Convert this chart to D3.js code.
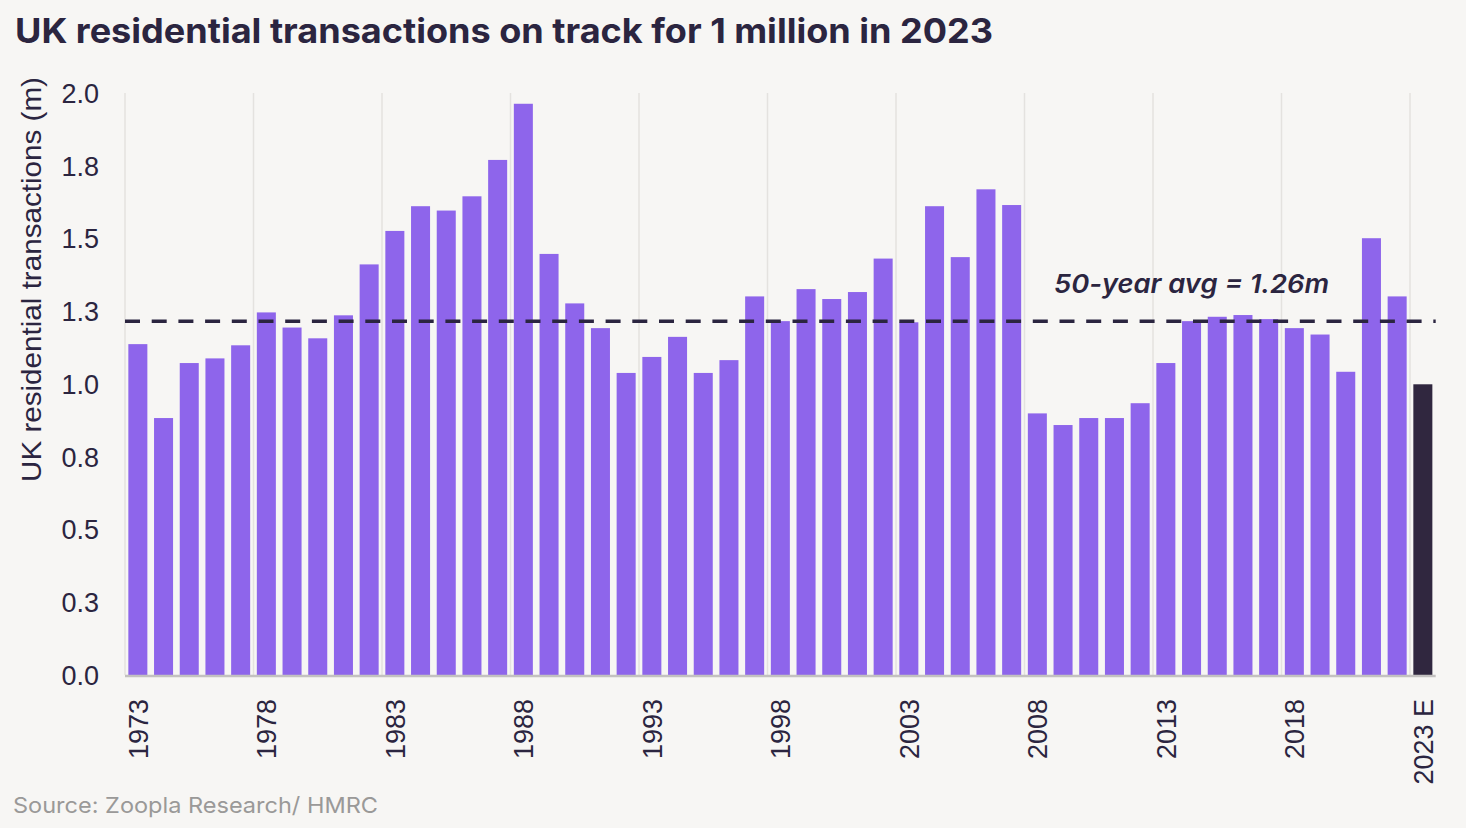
<!DOCTYPE html>
<html>
<head>
<meta charset="utf-8">
<script src="https://cdn.jsdelivr.net/npm/d3@7"></script>
<style>
  html, body { margin: 0; padding: 0; background: #f7f6f4; }
  svg { display: block; }
</style>
</head>
<body>
<svg id="chart" width="1466" height="828"></svg>
<script>
// categories (last one is the estimate)
const years = ['1973', '1974', '1975', '1976', '1977', '1978', '1979', '1980', '1981', '1982',
  '1983', '1984', '1985', '1986', '1987', '1988', '1989', '1990', '1991', '1992',
  '1993', '1994', '1995', '1996', '1997', '1998', '1999', '2000', '2001', '2002',
  '2003', '2004', '2005', '2006', '2007', '2008', '2009', '2010', '2011', '2012',
  '2013', '2014', '2015', '2016', '2017', '2018', '2019', '2020', '2021', '2022',
  '2023 E'];

// transactions, millions
const transactions = [1.137, 0.883, 1.072, 1.088, 1.133, 1.246, 1.194, 1.157, 1.236, 1.411,
  1.526, 1.611, 1.596, 1.645, 1.770, 1.963, 1.447, 1.277, 1.192, 1.038,
  1.093, 1.162, 1.038, 1.082, 1.301, 1.216, 1.326, 1.292, 1.316, 1.431,
  1.212, 1.611, 1.436, 1.669, 1.615, 0.899, 0.859, 0.883, 0.883, 0.934,
  1.072, 1.216, 1.231, 1.237, 1.223, 1.192, 1.170, 1.042, 1.501, 1.301,
  0.999];

const yTicks = [0, 0.25, 0.5, 0.75, 1, 1.25, 1.5, 1.75, 2];
const yTickLabels = ['0.0', '0.3', '0.5', '0.8', '1.0', '1.3', '1.5', '1.8', '2.0'];

const avgLine = 1.216; // where the dashed line sits in the picture
const avgLabel = '50-year avg = 1.26m';

const titleText = 'UK residential transactions on track for 1 million in 2023';
const yAxisTitle = 'UK residential transactions (m)';
const sourceText = 'Source: Zoopla Research/ HMRC';

const ink = '#2b2540';
const plot = { left: 125, right: 1435.7, top: 93, bottom: 675 };

const svg = d3.select('#chart');
const data = years.map((y, i) => ({ year: y, value: transactions[i] }));

const xScale = d3.scaleBand().domain(years).range([plot.left, plot.right]).paddingInner(0.26).paddingOuter(0.13);
const yScale = d3.scaleLinear().domain([0, 2]).range([plot.bottom, plot.top]);

// vertical grid every 5 years, at band edges
const gridYears = years.filter((d, i) => i % 5 === 0);
svg.append('g').selectAll('line').data(gridYears).join('line')
  .attr('x1', d => xScale(d) - xScale.step() * 0.13)
  .attr('x2', d => xScale(d) - xScale.step() * 0.13)
  .attr('y1', plot.top).attr('y2', plot.bottom)
  .attr('stroke', '#e4e2df').attr('stroke-width', 1.5);

// bars
svg.append('g').selectAll('rect').data(data).join('rect')
  .attr('x', d => xScale(d.year))
  .attr('width', xScale.bandwidth())
  .attr('y', d => yScale(d.value))
  .attr('height', d => yScale(0) - yScale(d.value))
  .attr('fill', d => d.year === '2023 E' ? '#30273f' : '#8e65eb');

// x axis
const xAxis = svg.append('g').attr('transform', `translate(0,${plot.bottom})`)
  .call(d3.axisBottom(xScale).tickValues(gridYears).tickSize(0).tickSizeOuter(0));
xAxis.select('.domain').attr('stroke', '#c3c1c0').attr('stroke-width', 2.5)
  .attr('d', `M${plot.left},1H${plot.right}`);
xAxis.selectAll('text')
  .attr('transform', 'rotate(-90)')
  .attr('x', -24).attr('y', 0).attr('dy', '0.36em')
  .attr('text-anchor', 'end')
  .attr('font-family', 'Liberation Sans, Arial, sans-serif')
  .attr('font-size', 27).attr('fill', ink);

// y axis
const yAxis = svg.append('g').attr('transform', `translate(${plot.left},0)`)
  .call(d3.axisLeft(yScale).tickValues(yTicks).tickFormat((d, i) => yTickLabels[i]).tickSize(0));
yAxis.select('.domain').remove();
yAxis.selectAll('text')
  .attr('x', -26).attr('dy', '0.35em')
  .attr('font-family', 'Liberation Sans, Arial, sans-serif')
  .attr('font-size', 27).attr('fill', ink);

// average line
svg.append('line')
  .attr('x1', plot.left).attr('x2', plot.right)
  .attr('y1', yScale(avgLine)).attr('y2', yScale(avgLine))
  .attr('stroke', ink).attr('stroke-width', 3.5)
  .attr('stroke-dasharray', '15 11.7');

svg.append('text')
  .attr('x', 1054).attr('y', 293)
  .attr('font-family', 'Inter, sans-serif').attr('font-style', 'italic').attr('font-weight', 600)
  .attr('font-size', 26).attr('fill', ink)
  .attr('textLength', 275).attr('lengthAdjust', 'spacingAndGlyphs')
  .text(avgLabel);

// y axis title
svg.append('text')
  .attr('transform', `translate(41,${(77 + 482) / 2}) rotate(-90)`)
  .attr('text-anchor', 'middle')
  .attr('font-family', 'Liberation Sans, Arial, sans-serif')
  .attr('font-size', 28).attr('fill', ink)
  .attr('textLength', 405).attr('lengthAdjust', 'spacingAndGlyphs')
  .text(yAxisTitle);

// title + source
svg.append('text')
  .attr('x', 15).attr('y', 43)
  .attr('font-family', 'Inter, sans-serif').attr('font-weight', 700)
  .attr('font-size', 34).attr('fill', ink)
  .attr('textLength', 978).attr('lengthAdjust', 'spacingAndGlyphs')
  .text(titleText);

svg.append('text')
  .attr('x', 13).attr('y', 813)
  .attr('font-family', 'Inter, sans-serif')
  .attr('font-size', 22).attr('fill', '#9a9998')
  .attr('textLength', 365).attr('lengthAdjust', 'spacingAndGlyphs')
  .text(sourceText);
</script>
</body>
</html>
